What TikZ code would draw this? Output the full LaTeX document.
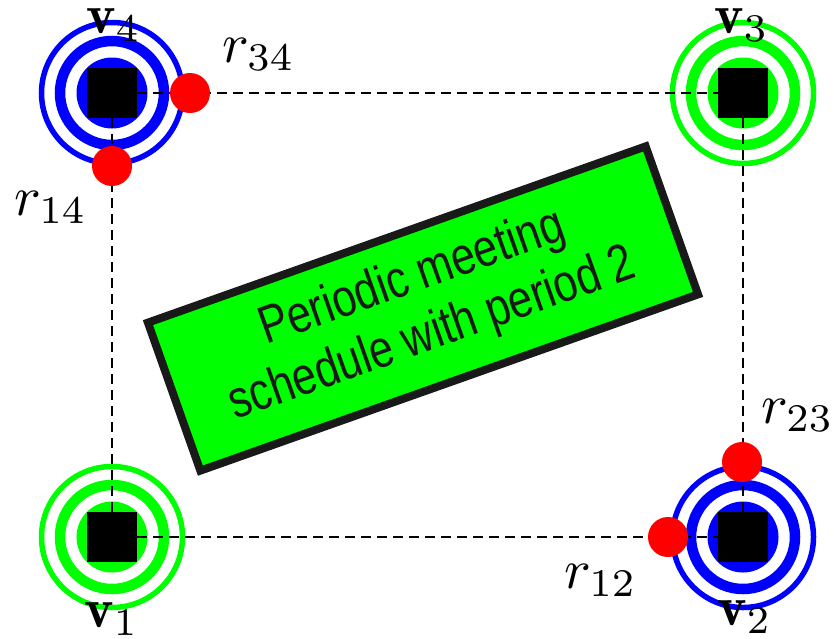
\documentclass[tikz,border=0pt]{standalone}
\usepackage{graphicx}
\usepackage{fontspec}
\newfontfamily\boxfont{Liberation Sans}
\newcommand\biglbl[1]{\scalebox{5.6}{$#1$}}
\pgfdeclarelayer{ringlayer}
\pgfdeclarelayer{linklayer}
\pgfsetlayers{ringlayer,linklayer,main}
\begin{document}
\begin{tikzpicture}[x=1pt,y=-1pt]
\tikzset{
  vsq/.style={fill=black, minimum size=50pt, inner sep=0pt},
  rdot/.style={circle, fill=red, minimum size=40pt, inner sep=0pt},
  lbl/.style={inner sep=0pt, anchor=base west},
  link/.style={dash pattern=on 10pt off 6pt, line width=2.3pt},
  schedbox/.style={draw=black!90, fill=green, line width=8pt, rotate=19.5,
    minimum width=528pt, minimum height=157pt, inner sep=0pt,
    font=\boxfont\fontsize{53}{60}\selectfont, text=black!90},
}
\useasboundingbox (0,0) rectangle (834,638);
\begin{pgfonlayer}{ringlayer}
\foreach \px/\py/\col in {112/537/green, 743/537/blue, 743/93/green, 112/93/blue}{
  \fill[\col] (\px,\py) circle (35.5pt);
  \draw[\col, line width=10.5pt] (\px,\py) circle (52pt);
  \draw[\col, line width=5.5pt] (\px,\py) circle (70.5pt);
}
\end{pgfonlayer}
\node[vsq] (v1) at (112,537) {};
\node[vsq] (v2) at (743,537) {};
\node[vsq] (v3) at (743,93) {};
\node[vsq] (v4) at (112,93) {};
\begin{pgfonlayer}{linklayer}
\draw[link] (v4) -- (v3);
\draw[link] (v4) -- (v1);
\draw[link] (v1) -- (v2);
\draw[link] (v3) -- (v2);
\end{pgfonlayer}
\node[rdot] (r34) at (190,93) {};
\node[rdot] (r14) at (112,166) {};
\node[rdot] (r23) at (742,462) {};
\node[rdot] (r12) at (668,537) {};
\node[lbl] (lr34) at (222,62) {\biglbl{r_{34}}};
\node[lbl] (lr14) at (14,215) {\biglbl{r_{14}}};
\node[lbl] (lr23) at (761,423) {\biglbl{r_{23}}};
\node[lbl] (lr12) at (564,588) {\biglbl{r_{12}}};
\node[lbl] (lv4) at (86,33) {\biglbl{\mathbf{v}_4}};
\node[lbl] (lv3) at (714,33) {\biglbl{\mathbf{v}_3}};
\node[lbl] (lv2) at (717,625) {\biglbl{\mathbf{v}_2}};
\node[lbl] (lv1) at (84,627) {\biglbl{\mathbf{v}_1}};
\node[schedbox] (box) at (423,308.5) {\raisebox{-8pt}{\scalebox{0.81}[1]{\begin{tabular}{@{}c@{}}Periodic meeting\\schedule with period 2\end{tabular}}}};
\end{tikzpicture}
\end{document}
